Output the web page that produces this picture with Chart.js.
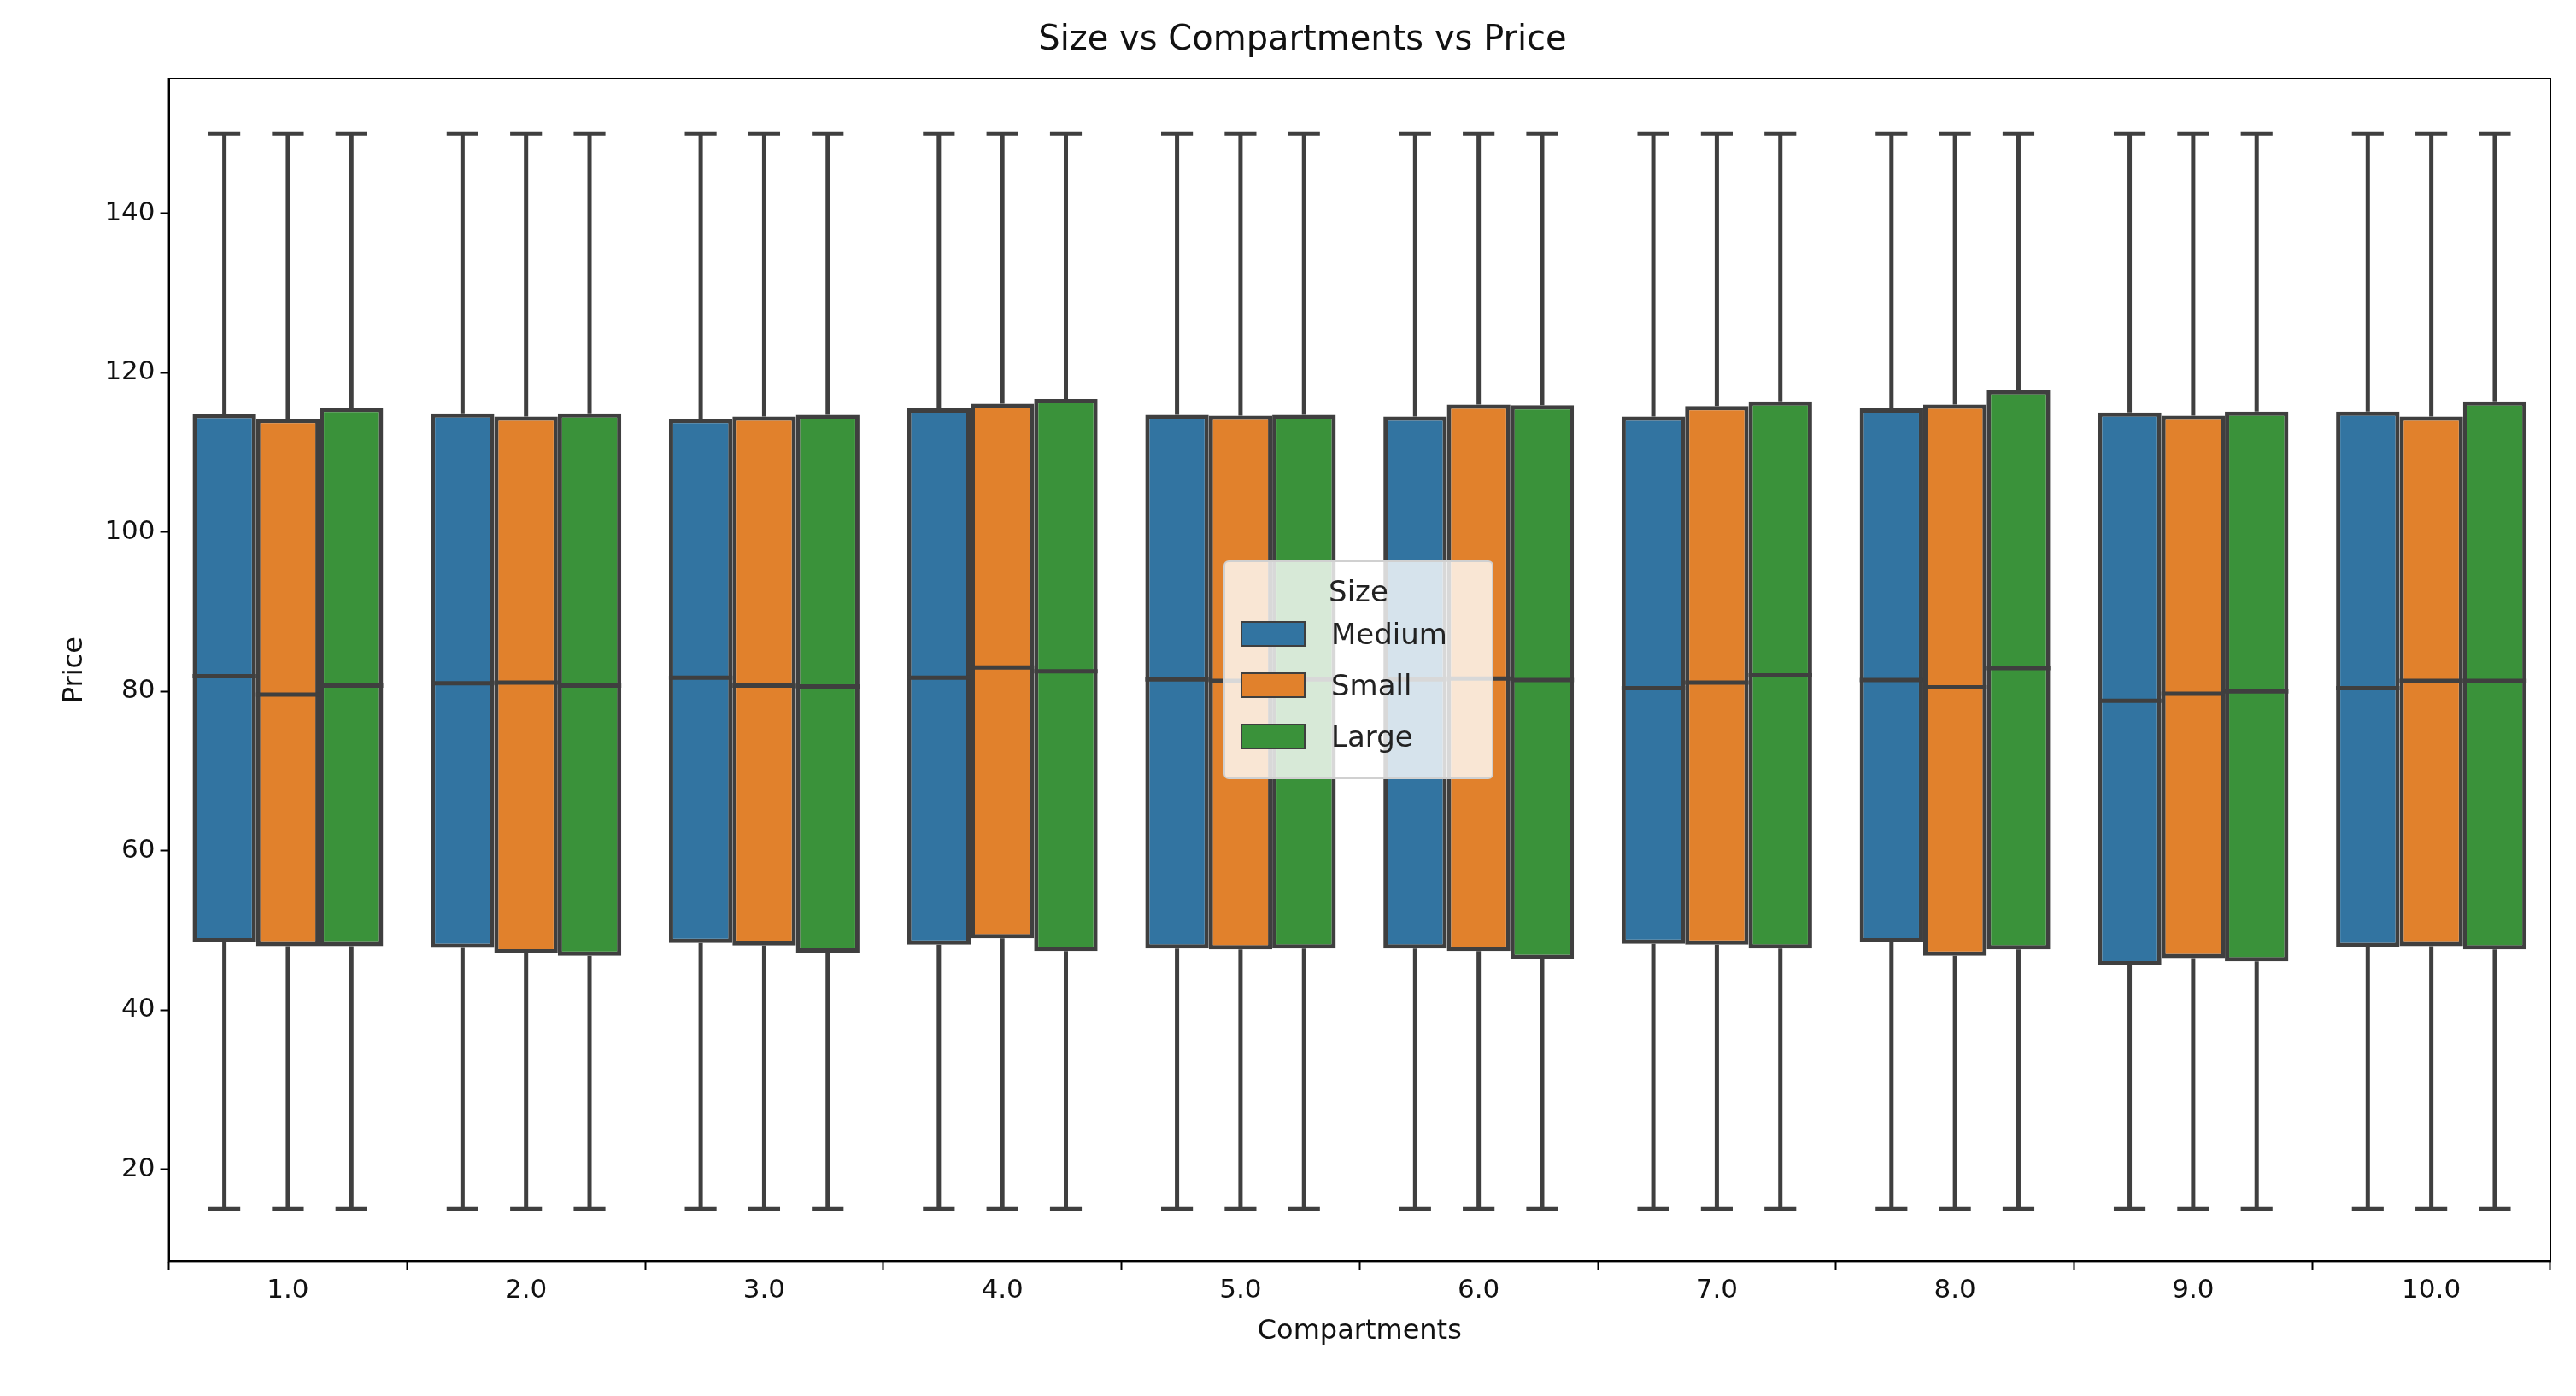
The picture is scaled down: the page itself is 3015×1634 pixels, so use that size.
<!DOCTYPE html>
<html><head><meta charset="utf-8">
<script src="https://cdn.jsdelivr.net/npm/chart.js@4.4.0/dist/chart.umd.min.js"></script>
<style>
html,body{margin:0;padding:0;background:#fff;}
#wrap{position:relative;width:3015px;height:1634px;}
#legend{position:absolute;left:1432px;top:656px;width:316px;height:256px;box-sizing:border-box;background:rgba(255,255,255,0.8);border:2px solid #d0d0d0;border-radius:6px;font-family:"DejaVu Sans";font-size:34px;color:#222;}
#legend .t{text-align:center;margin-top:14px;}
#legend .r{display:flex;align-items:center;margin-left:18px;height:60px;}
#legend .s{width:76px;height:30px;border:2px solid #3f3f3f;box-sizing:border-box;margin-right:30px;}
</style></head><body>
<div id="wrap"><canvas id="c" width="3015" height="1634"></canvas>
<div id="legend"><div class="t">Size</div>
<div class="r"><div class="s" style="background:#3274a1"></div>Medium</div>
<div class="r"><div class="s" style="background:#e1812c"></div>Small</div>
<div class="r"><div class="s" style="background:#3a923a"></div>Large</div></div></div>
<script>
const categories=["1.0","2.0","3.0","4.0","5.0","6.0","7.0","8.0","9.0","10.0"];
const seriesNames=["Medium","Small","Large"];
const colors=["#3274a1","#e1812c","#3a923a"];
const whiskerLow=15, whiskerHigh=150;
const mediumQ1=[48.5,47.8,48.4,48.2,47.7,47.7,48.3,48.5,45.6,47.9];
const mediumMed=[81.9,81.0,81.7,81.7,81.5,81.5,80.4,81.4,78.8,80.4];
const mediumQ3=[114.8,114.9,114.2,115.5,114.7,114.5,114.5,115.5,115.0,115.1];
const smallQ1=[48.0,47.1,48.1,49.0,47.6,47.4,48.2,46.8,46.5,48.0];
const smallMed=[79.6,81.1,80.7,83.0,81.3,81.6,81.1,80.5,79.7,81.3];
const smallQ3=[114.2,114.5,114.5,116.1,114.6,116.0,115.8,116.0,114.6,114.5];
const largeQ1=[48.0,46.8,47.2,47.4,47.7,46.4,47.7,47.6,46.1,47.6];
const largeMed=[80.7,80.7,80.6,82.5,81.5,81.4,82.0,82.9,80.0,81.3];
const largeQ3=[115.6,114.9,114.7,116.7,114.7,115.9,116.4,117.8,115.1,116.4];
const yTicks=[20,40,60,80,100,120,140];
const Q1=[mediumQ1,smallQ1,largeQ1],MED=[mediumMed,smallMed,largeMed],Q3=[mediumQ3,smallQ3,largeQ3];
const datasets=seriesNames.map((n,i)=>({label:n,data:Q1[i].map((v,j)=>[v,Q3[i][j]]),backgroundColor:colors[i],borderColor:'#3f3f3f',borderWidth:5,borderSkipped:false,categoryPercentage:0.8,barPercentage:1}));
const boxPlugin={id:'box',afterDatasetsDraw(chart){
 const ctx=chart.ctx,y=chart.scales.y;ctx.save();ctx.strokeStyle='#3f3f3f';ctx.lineWidth=5;
 chart.data.datasets.forEach((ds,i)=>{chart.getDatasetMeta(i).data.forEach((el,j)=>{
  const x=el.x,hw=el.width/4;
  const yl=y.getPixelForValue(whiskerLow),yh=y.getPixelForValue(whiskerHigh);
  const y1=y.getPixelForValue(Q1[i][j]),y3=y.getPixelForValue(Q3[i][j]),ym=y.getPixelForValue(MED[i][j]);
  ctx.beginPath();
  ctx.moveTo(x,y3);ctx.lineTo(x,yh);ctx.moveTo(x-hw,yh);ctx.lineTo(x+hw,yh);
  ctx.moveTo(x,y1);ctx.lineTo(x,yl);ctx.moveTo(x-hw,yl);ctx.lineTo(x+hw,yl);
  ctx.moveTo(x-el.width/2,ym);ctx.lineTo(x+el.width/2,ym);ctx.stroke();
 });});
 const a=chart.chartArea;ctx.strokeStyle='#000';ctx.lineWidth=2;ctx.strokeRect(a.left,a.top,a.right-a.left,a.bottom-a.top);
 ctx.restore();}};
new Chart(document.getElementById('c'),{type:'bar',data:{labels:categories,datasets},
options:{responsive:false,devicePixelRatio:1,animation:false,
layout:{padding:{left:64,right:30,top:10,bottom:52}},
plugins:{legend:{display:false},tooltip:{enabled:false},
 title:{display:true,text:'Size vs Compartments vs Price',color:'#111',font:{family:'DejaVu Sans',size:40,weight:'normal'},padding:{top:14,bottom:20}}},
scales:{
 x:{grid:{display:true,drawOnChartArea:false,drawTicks:true,tickLength:10,tickColor:'#000',tickWidth:2},border:{color:'#000',width:2},
  ticks:{color:'#111',font:{family:'DejaVu Sans',size:31},padding:6},
  title:{display:true,text:'Compartments',color:'#111',font:{family:'DejaVu Sans',size:32},padding:{top:4}}},
 y:{min:8.45,max:156.9,afterBuildTicks:a=>{a.ticks=yTicks.map(v=>({value:v}));},
  grid:{display:true,drawOnChartArea:false,drawTicks:true,tickLength:10,tickColor:'#000',tickWidth:2},border:{color:'#000',width:2},
  ticks:{color:'#111',font:{family:'DejaVu Sans',size:31},padding:6},
  title:{display:true,text:'Price',color:'#111',font:{family:'DejaVu Sans',size:32},padding:{bottom:10}}}}},
plugins:[boxPlugin]});
</script></body></html>
